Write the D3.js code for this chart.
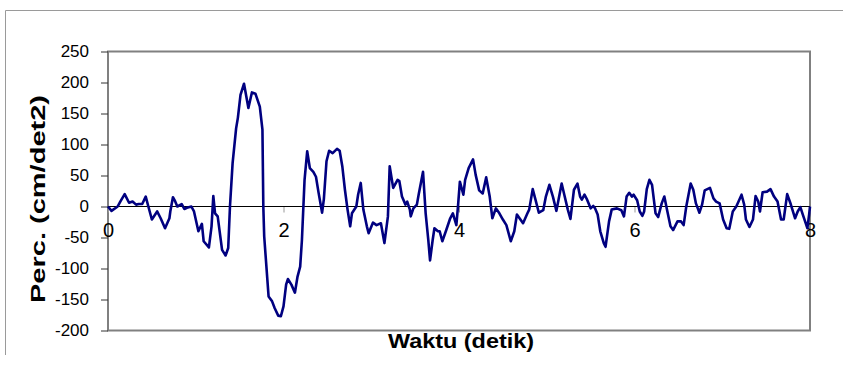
<!DOCTYPE html>
<html>
<head>
<meta charset="utf-8">
<script src="https://cdn.jsdelivr.net/npm/d3@7"></script>
<style>
  html, body { margin: 0; padding: 0; background: #fff; }
  svg { display: block; font-family: "Liberation Sans", Arial, sans-serif; }
</style>
</head>
<body>
<svg id="chart" width="843" height="367"></svg>
<script>
// Ground acceleration record: time (s) and acceleration (cm/s^2)
const time = [
  0.00,0.04,0.11,0.14,0.19,0.24,0.28,0.32,0.35,0.39,0.43,0.46,0.50,0.56,0.60,0.65,0.70,0.71,0.74,0.76,
  0.79,0.84,0.87,0.90,0.95,0.98,1.03,1.07,1.09,1.15,1.18,1.20,1.22,1.25,1.30,1.34,1.37,1.39,1.42,1.46,
  1.48,1.51,1.55,1.60,1.64,1.68,1.73,1.76,1.77,1.78,1.83,1.87,1.90,1.94,1.97,2.00,2.03,2.05,2.09,2.13,
  2.16,2.19,2.21,2.24,2.27,2.30,2.34,2.37,2.40,2.44,2.46,2.49,2.52,2.56,2.61,2.64,2.67,2.70,2.73,2.76,
  2.78,2.83,2.85,2.88,2.91,2.95,2.97,3.02,3.06,3.11,3.15,3.19,3.21,3.25,3.30,3.32,3.35,3.39,3.41,3.44,
  3.45,3.48,3.52,3.54,3.59,3.62,3.65,3.67,3.70,3.72,3.76,3.78,3.81,3.85,3.90,3.93,3.97,3.99,4.01,4.05,
  4.07,4.11,4.16,4.19,4.23,4.27,4.31,4.35,4.38,4.42,4.46,4.50,4.54,4.59,4.63,4.66,4.69,4.73,4.78,4.80,
  4.84,4.87,4.91,4.96,4.99,5.03,5.07,5.11,5.16,5.17,5.20,5.24,5.27,5.31,5.35,5.38,5.40,5.43,5.46,5.50,
  5.53,5.55,5.58,5.61,5.65,5.67,5.71,5.74,5.80,5.85,5.88,5.91,5.94,5.97,5.99,6.03,6.06,6.09,6.11,6.14,
  6.17,6.20,6.24,6.27,6.31,6.34,6.37,6.41,6.44,6.49,6.53,6.56,6.59,6.64,6.67,6.70,6.74,6.77,6.80,6.86,
  6.90,6.93,6.97,7.01,7.05,7.08,7.12,7.16,7.22,7.25,7.27,7.31,7.35,7.38,7.41,7.43,7.46,7.51,7.55,7.59,
  7.63,7.67,7.70,7.74,7.78,7.83,7.86,7.89,7.92,7.97,7.99,8.00
];
const accel = [
  0,-7,0,8,20,6,8,3,4,4,16,0,-21,-8,-19,-35,-19,-8,15,10,
  0,4,-4,-2,0,-8,-40,-28,-56,-66,-32,17,-11,-16,-70,-79,-67,0,70,126,
  143,180,198,159,184,182,161,124,0,-48,-145,-153,-164,-176,-177,-161,-126,-117,-126,-139,
  -113,-97,-54,43,89,62,56,48,22,-10,12,73,90,86,93,90,65,27,-5,-32,
  -11,0,19,38,-5,-32,-43,-26,-30,-27,-59,-16,65,30,43,41,16,3,8,-5,
  -16,-3,3,19,56,-11,-54,-87,-54,-35,-40,-40,-56,-40,-19,-11,-30,3,40,19,
  43,62,76,51,26,21,47,16,-19,-3,-11,-21,-30,-56,-40,-13,-19,-27,-11,-5,
  28,12,-10,-6,16,35,16,-7,30,37,19,-5,-20,27,37,16,11,19,11,-3,
  1,-3,-13,-40,-59,-65,-24,-5,-3,-6,-16,16,22,16,19,10,-8,-15,-8,28,
  43,35,-11,-17,5,16,-5,-32,-38,-24,-24,-30,0,37,27,5,-10,3,26,30,
  13,8,5,-21,-35,-36,-8,0,19,3,-21,-33,-21,17,8,-8,23,24,28,16,
  8,-21,-21,20,4,-19,-8,-1,-14,-35,-13,0
];
const yTicks = [-200, -150, -100, -50, 0, 50, 100, 150, 200, 250];
const xTicks = [0, 2, 4, 6, 8];
const xTitle = "Waktu (detik)";
const yTitle = "Perc. (cm/det2)";

const svg = d3.select("#chart");
const plot = { left: 108, right: 810, top: 51.5, bottom: 330.5 };

const x = d3.scaleLinear().domain([0, 8]).range([plot.left, plot.right]);
const y = d3.scaleLinear().domain([-200, 250]).range([plot.bottom, plot.top]);

// Outer chart frame (top and left edges visible)
svg.append("path")
  .attr("d", "M5.5,355 L5.5,10.5 L843,10.5")
  .attr("fill", "none").attr("stroke", "#9a9a9a").attr("stroke-width", 1);

// Plot area border
svg.append("rect")
  .attr("x", plot.left).attr("y", plot.top)
  .attr("width", plot.right - plot.left).attr("height", plot.bottom - plot.top)
  .attr("fill", "none").attr("stroke", "#808080").attr("stroke-width", 2);

// Value axis (left); plain hyphen for negative numbers
const yAxis = svg.append("g")
  .attr("transform", `translate(${plot.left},0)`)
  .call(d3.axisLeft(y).tickValues(yTicks).tickSize(7).tickPadding(12).tickFormat(d => String(d)));
yAxis.select(".domain").remove();
yAxis.selectAll("line").attr("stroke", "#333");
yAxis.selectAll("text").attr("font-size", 17).attr("fill", "#000")
  .attr("font-family", "'Liberation Sans', Arial, sans-serif");

// Time axis crossing at zero
const xAxis = svg.append("g")
  .attr("transform", `translate(0,${y(0)})`)
  .call(d3.axisBottom(x).tickValues(xTicks).tickSize(6).tickPadding(10).tickFormat(d => String(d)));
xAxis.select(".domain").remove();
xAxis.selectAll("line").attr("stroke", "#999");
xAxis.selectAll("text").attr("font-size", 20).attr("fill", "#000")
  .attr("font-family", "'Liberation Sans', Arial, sans-serif");

// Zero line
svg.append("line")
  .attr("x1", plot.left).attr("x2", plot.right)
  .attr("y1", y(0)).attr("y2", y(0))
  .attr("stroke", "#000").attr("stroke-width", 1.2);

// Acceleration trace
const pts = time.map((t, i) => [t, accel[i]]);
svg.append("path")
  .datum(pts)
  .attr("fill", "none")
  .attr("stroke", "#000080")
  .attr("stroke-width", 2.6)
  .attr("stroke-linejoin", "round")
  .attr("d", d3.line().x(d => x(d[0])).y(d => y(d[1])));

// Axis titles
svg.append("text")
  .attr("x", 461).attr("y", 348)
  .attr("text-anchor", "middle")
  .attr("font-size", 20).attr("font-weight", "bold")
  .attr("textLength", 146).attr("lengthAdjust", "spacingAndGlyphs")
  .text(xTitle);

svg.append("text")
  .attr("transform", "translate(45,199) rotate(-90)")
  .attr("text-anchor", "middle")
  .attr("font-size", 20).attr("font-weight", "bold")
  .attr("textLength", 208).attr("lengthAdjust", "spacingAndGlyphs")
  .text(yTitle);
</script>
</body>
</html>
